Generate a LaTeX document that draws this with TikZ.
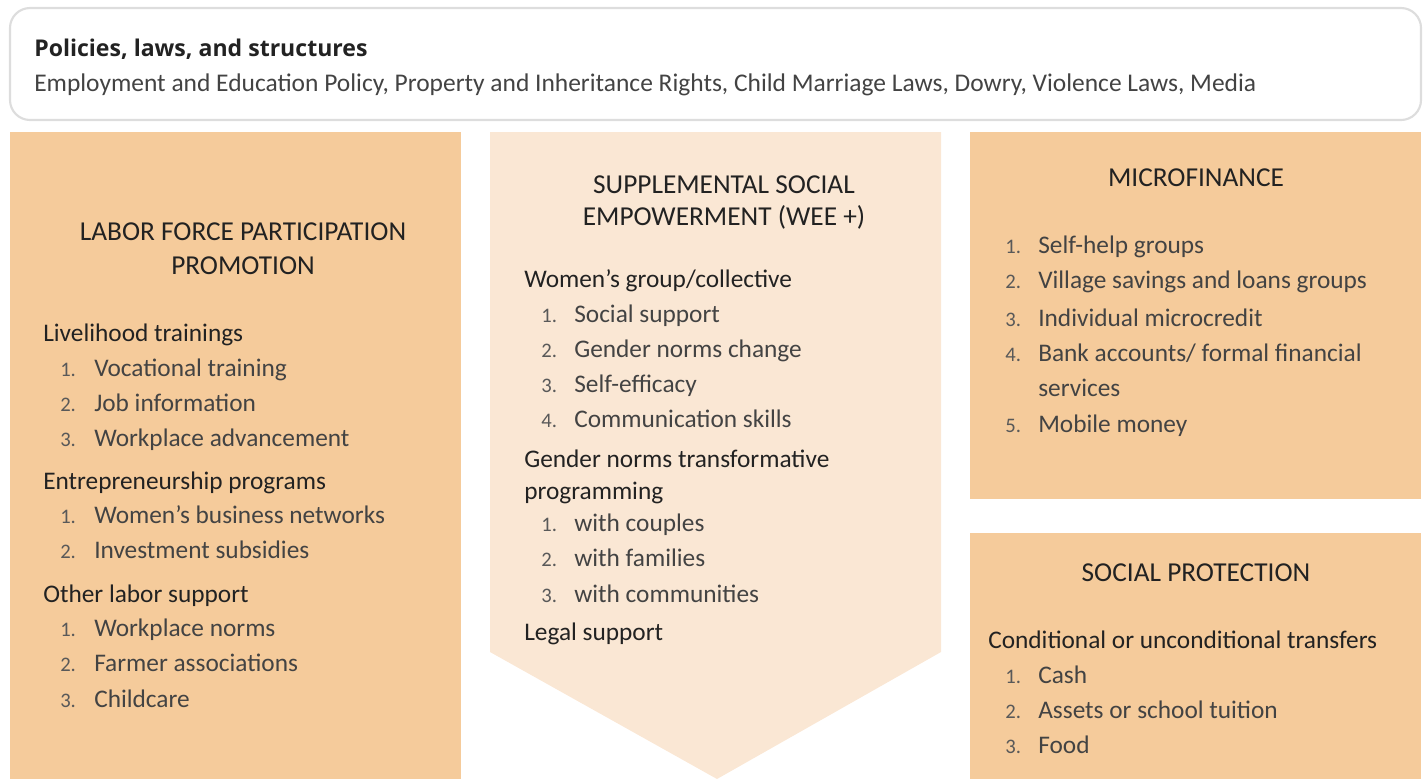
\documentclass[tikz,border=0pt]{standalone}
\usepackage{fontspec}
\setmainfont{Carlito}
\newfontfamily\headfont{Open Sans}

\definecolor{peach}{HTML}{F5CB9B}
\definecolor{palepeach}{HTML}{FAE7D4}
\definecolor{ink}{HTML}{222222}
\definecolor{rim}{HTML}{DDDDDD}

\tikzset{
  panel/.style={fill=peach, draw=none},
  banner/.style={draw=rim, line width=1.6pt, rounded corners=15pt, fill=white},
  caps/.style={anchor=base, text=ink, align=center, font=\fontsize{20.5}{25}\selectfont},
  heading/.style={anchor=base west, text=ink, inner sep=0pt, font=\fontsize{19}{23.5}\selectfont},
  item/.style={anchor=base west, text=ink!85, inner sep=0pt, font=\fontsize{19}{26}\selectfont},
  num/.style={anchor=base west, text=ink!75, inner sep=0pt, font=\fontsize{15.5}{16}\selectfont},
}

\begin{document}
\begin{tikzpicture}[x=0.75pt, y=-0.75pt]
    \useasboundingbox (0,0) rectangle (1428,779);

    % Policies banner
    \draw[banner] (10,8) rectangle (1421,120);
    \node[heading, font=\headfont\bfseries\fontsize{17.3}{18}\selectfont] (pol) at (34,56) {Policies, laws, and structures};
    \node[item, font=\fontsize{19.1}{20}\selectfont] (polsub) at (34,91) {Employment and Education Policy, Property and Inheritance Rights, Child Marriage Laws, Dowry, Violence Laws, Media};

    % Panels
    \fill[panel] (10,132) rectangle (461,779);
    \fill[palepeach] (490,132) -- (941,132) -- (941,652) -- (717,779) -- (490,652) -- cycle;
    \fill[panel] (970,132) rectangle (1421,499);
    \fill[panel] (970,533) rectangle (1421,779);

    % Labor force participation (base anchor sits on the last line)
    \node[caps, font=\fontsize{20.5}{25.5}\selectfont] (lfp) at (243,274) {LABOR FORCE PARTICIPATION\\PROMOTION};
    \node[heading] (lvh) at (43,341) {Livelihood trainings};
    \foreach \t [count=\i] in {Vocational training, Job information, Workplace advancement} {
        \node[num] (lvn\i) at (60,{376+35*(\i-1)}) {\i.};
        \node[item] (lv\i) at (94,{376+35*(\i-1)}) {\t};
    }
    \node[heading] (enh) at (43,489) {Entrepreneurship programs};
    \foreach \t [count=\i] in {Women’s business networks, Investment subsidies} {
        \node[num] (enn\i) at (60,{523+35*(\i-1)}) {\i.};
        \node[item] (en\i) at (94,{523+35*(\i-1)}) {\t};
    }
    \node[heading] (olh) at (43,602) {Other labor support};
    \foreach \t [count=\i] in {Workplace norms, Farmer associations, Childcare} {
        \node[num] (oln\i) at (60,{636+35.5*(\i-1)}) {\i.};
        \node[item] (ol\i) at (94,{636+35.5*(\i-1)}) {\t};
    }

    % Supplemental social empowerment
    \node[caps, font=\fontsize{20.5}{24}\selectfont] (wee) at (724,225) {SUPPLEMENTAL SOCIAL\\EMPOWERMENT (WEE +)};
    \node[heading] (wgh) at (524,287) {Women’s group/collective};
    \foreach \t [count=\i] in {Social support, Gender norms change, Self-efficacy, Communication skills} {
        \node[num] (wgn\i) at (541,{322+35.3*(\i-1)}) {\i.};
        \node[item] (wg\i) at (574,{322+35.3*(\i-1)}) {\t};
    }
    \node[heading, align=left] (gnh) at (524,499) {Gender norms transformative\\programming};
    \foreach \t [count=\i] in {with couples, with families, with communities} {
        \node[num] (gnn\i) at (541,{531+35.5*(\i-1)}) {\i.};
        \node[item] (gn\i) at (574,{531+35.5*(\i-1)}) {\t};
    }
    \node[heading] (lgh) at (524,640) {Legal support};

    % Microfinance
    \node[caps] (mf) at (1196,186) {MICROFINANCE};
    \foreach \t/\y [count=\i] in {Self-help groups/253, Village savings and loans groups/288, Individual microcredit/326} {
        \node[num] (mfn\i) at (1005,\y) {\i.};
        \node[item] (mf\i) at (1038,\y) {\t};
    }
    \node[num] (mfn4) at (1005,361) {4.};
    \node[item] (mf4) at (1038,361) {Bank accounts/ formal financial};
    \node[item] (mf4b) at (1038,396) {services};
    \node[num] (mfn5) at (1005,432) {5.};
    \node[item] (mf5) at (1038,432) {Mobile money};

    % Social protection
    \node[caps] (sp) at (1196,581) {SOCIAL PROTECTION};
    \node[heading] (cth) at (988,648) {Conditional or unconditional transfers};
    \foreach \t [count=\i] in {Cash, Assets or school tuition, Food} {
        \node[num] (ctn\i) at (1005,{683+35*(\i-1)}) {\i.};
        \node[item] (ct\i) at (1038,{683+35*(\i-1)}) {\t};
    }
\end{tikzpicture}
\end{document}
